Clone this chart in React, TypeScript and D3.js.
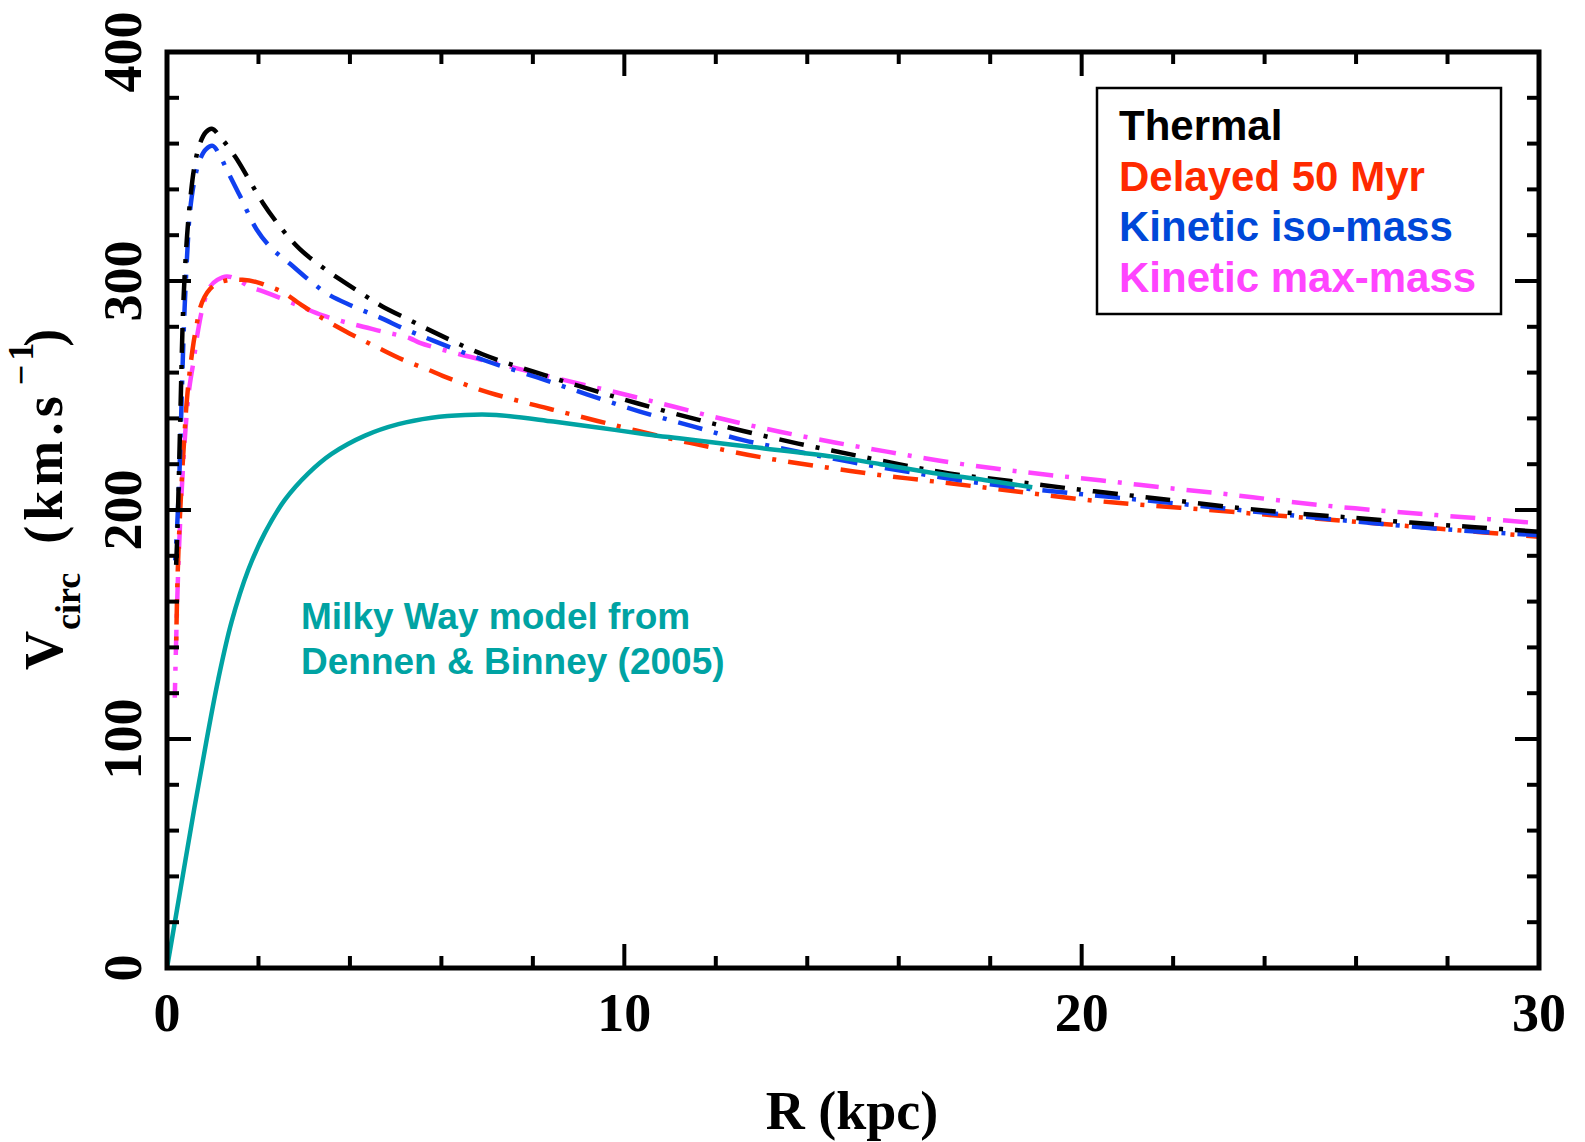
import React from 'react';
import * as d3 from 'd3';

type Pt = [number, number];

// ---- data (R in kpc, Vcirc in km/s) ----
const thermal: Pt[] = [[0.20,176],[0.23,192],[0.26,215],[0.30,248],[0.34,280],[0.38,300],[0.44,320],[0.50,334],[0.60,350],[0.72,360],[0.85,365],[0.98,366.5],[1.2,362],[1.5,354],[1.8,344],[2.1,334],[2.5,323],[2.9,314],[3.4,306],[3.8,300.5],[4.3,294],[4.7,289],[5.3,283],[5.8,278],[6.9,268],[8.0,260.5],[9.2,253],[10.3,246.5],[11.5,240],[12.6,234.5],[13.8,229],[14.9,224.5],[16.0,220],[17.1,216],[18.5,212.5],[19.7,209.5],[21.0,206.5],[22.1,204],[23.4,201],[24.7,198.5],[26.0,196.5],[27.2,194.5],[28.6,192.5],[30,190.5]];
const delayed: Pt[] = [[0.20,140],[0.22,162],[0.25,182],[0.32,212],[0.38,232],[0.43,247],[0.50,261],[0.58,273],[0.65,281],[0.72,288],[0.82,293],[0.94,296.5],[1.1,299],[1.38,300.5],[1.65,300.5],[1.96,299.5],[2.25,297.5],[2.54,295],[2.98,289],[3.5,282.5],[4.0,277],[4.6,271],[5.17,265.5],[5.68,261.5],[6.04,258.5],[6.7,253.5],[7.35,249.5],[8.0,246],[8.6,243],[9.69,237.5],[10.93,231.5],[11.87,227.5],[13.0,223],[14.28,219],[15.5,215.5],[16.76,212.5],[18.0,209.5],[19.1,206.8],[20.3,204],[21.5,202],[22.8,200],[24.0,198],[25.1,196.3],[26.4,194.2],[27.6,192.2],[28.8,190.2],[30,188.3]];
const isoMass: Pt[] = [[0.18,178],[0.22,192],[0.27,215],[0.32,248],[0.36,275],[0.40,295],[0.45,315],[0.50,330],[0.60,344],[0.72,353],[0.85,357.5],[1.0,359],[1.15,355],[1.31,348.5],[1.6,337],[1.96,322.5],[2.3,314],[2.69,307.5],[3.1,300.5],[3.5,294.5],[4.0,289.5],[4.66,284],[5.2,279],[5.82,274],[6.92,265.5],[8.08,258],[9.18,250.5],[10.34,243],[11.5,236.5],[12.6,230.5],[13.8,225.5],[14.94,221],[16.1,217],[17.34,213],[18.5,210],[19.7,207.5],[21.5,204],[23.45,200],[25.7,195.5],[28.0,191.5],[30,189]];
const maxMass: Pt[] = [[0.17,118],[0.19,135],[0.22,158],[0.26,182],[0.32,208],[0.40,234],[0.48,252],[0.58,265],[0.68,278.5],[0.80,290],[0.94,297.5],[1.1,300.5],[1.31,302],[1.55,300.5],[1.81,297.5],[2.1,295.5],[2.4,293.2],[2.91,289],[3.4,285],[4.0,281.5],[4.7,278],[5.31,275],[5.53,273],[6.4,268],[7.5,262.6],[8.67,256.8],[9.9,251],[11.07,245.2],[12.2,239.5],[13.4,234.2],[14.6,229.5],[15.74,225.5],[16.9,221.5],[18.07,218.2],[19.2,215.5],[20.4,213],[21.7,210],[23.0,207.3],[24.1,204.7],[25.2,202.2],[26.5,199.8],[27.75,197.8],[28.9,196],[30,194.2]];
const milkyWay: Pt[] = [[0,0],[0.3,35],[0.6,70],[0.87,100],[1.12,126],[1.41,151],[1.78,174],[2.14,190],[2.58,204.5],[3.09,216],[3.6,224.5],[4.33,232.5],[5.06,237.5],[5.79,240.3],[6.52,241.5],[7.2,241.5],[8.45,238.6],[9.5,235.8],[10.5,233],[11.2,231.3],[12.8,227.5],[14.57,223.3],[15.6,220],[16.75,216.2],[17.9,213],[18.92,209.9]];

const xMajorTicks = [0, 10, 20, 30];
const yMajorTicks = [0, 100, 200, 300, 400];
const legendLabels = ['Thermal', 'Delayed 50 Myr', 'Kinetic iso-mass', 'Kinetic max-mass'];
const legendColors = ['#000000', '#FF2A00', '#0048D8', '#FF44FF'];
const annotationLines = ['Milky Way model from', 'Dennen & Binney (2005)'];

const serif = '"Liberation Serif", "Times New Roman", serif';
const sans = '"Liberation Sans", Arial, sans-serif';

export default function App() {
  const x = d3.scaleLinear().domain([0, 30]).range([167, 1539]);
  const y = d3.scaleLinear().domain([0, 400]).range([968, 52]);
  const line = d3.line<Pt>().x(d => x(d[0])).y(d => y(d[1])).curve(d3.curveCatmullRom.alpha(0.5));

  const xMinor = d3.range(0, 30.001, 2).filter(v => !xMajorTicks.includes(v));
  const yMinor = d3.range(0, 400.001, 20).filter(v => !yMajorTicks.includes(v));
  const [x0, x1] = x.range();
  const [y0, y1] = y.range();
  const majL = 24, minL = 12;

  const curves = [
    { data: maxMass, color: '#FF44FF', dash: '25 12 4 12', off: 10 },
    { data: delayed, color: '#FF3300', dash: '25 12 4 12', off: 30 },
    { data: isoMass, color: '#1040F0', dash: '25 12 4 12', off: 20 },
    { data: thermal, color: '#000000', dash: '25 12 4 12', off: 0 },
  ];

  return (
    <svg width={1585} height={1142} style={{ position: 'absolute', left: 0, top: 0, background: '#fff' }}>
      <defs>
        <clipPath id="plotclip">
          <rect x={x0} y={y1} width={x1 - x0} height={y0 - y1} />
        </clipPath>
      </defs>
      <rect x={0} y={0} width={1585} height={1142} fill="#fff" />

      <g clipPath="url(#plotclip)">
        {curves.map((c, i) => (
          <path key={i} d={line(c.data) || ''} fill="none" stroke={c.color} strokeWidth={4.5}
            strokeDasharray={c.dash} strokeDashoffset={c.off} />
        ))}
        <path d={line(milkyWay) || ''} fill="none" stroke="#00A3A3" strokeWidth={4.5} />
      </g>

      {/* ticks */}
      <g stroke="#000" strokeWidth={4}>
        {xMajorTicks.concat(xMinor).map(v => {
          const L = xMajorTicks.includes(v) ? majL : minL;
          return (
            <g key={'xt' + v}>
              <line x1={x(v)} x2={x(v)} y1={y0} y2={y0 - L} />
              <line x1={x(v)} x2={x(v)} y1={y1} y2={y1 + L} />
            </g>
          );
        })}
        {yMajorTicks.concat(yMinor).map(v => {
          const L = yMajorTicks.includes(v) ? majL : minL;
          return (
            <g key={'yt' + v}>
              <line x1={x0} x2={x0 + L} y1={y(v)} y2={y(v)} />
              <line x1={x1} x2={x1 - L} y1={y(v)} y2={y(v)} />
            </g>
          );
        })}
      </g>
      <rect x={x0} y={y1} width={x1 - x0} height={y0 - y1} fill="none" stroke="#000" strokeWidth={5} />

      {/* tick labels */}
      <g fontFamily={serif} fontWeight="bold" fontSize={54} fill="#000">
        {xMajorTicks.map(v => (
          <text key={'xl' + v} x={x(v)} y={1031} textAnchor="middle">{v}</text>
        ))}
        {yMajorTicks.map(v => (
          <text key={'yl' + v} transform={`translate(141,${y(v)}) rotate(-90)`} textAnchor="middle">{v}</text>
        ))}
        <text x={852} y={1129} textAnchor="middle">R (kpc)</text>
        <text transform="translate(62,670) rotate(-90)" textAnchor="start">
          <tspan>V</tspan>
          <tspan fontSize={36} dx={1} dy={18}>circ</tspan>
          <tspan dx={29} dy={-18} letterSpacing={5}>(km.s</tspan>
          <tspan fontSize={36} dx={6} dy={-29}>−</tspan>
          <tspan fontSize={36} dx={4}>1</tspan>
          <tspan dx={-4} dy={29}>)</tspan>
        </text>
      </g>

      {/* legend */}
      <rect x={1097} y={88} width={404} height={226} fill="#fff" stroke="#000" strokeWidth={2.5} />
      <g fontFamily={sans} fontWeight="bold" fontSize={42}>
        {legendLabels.map((t, i) => (
          <text key={t} x={1119} y={140 + i * 50.6} fill={legendColors[i]}>{t}</text>
        ))}
      </g>

      {/* annotation */}
      <g fontFamily={sans} fontWeight="bold" fontSize={37} fill="#00A3A3">
        {annotationLines.map((t, i) => (
          <text key={t} x={301} y={629 + i * 45}>{t}</text>
        ))}
      </g>
    </svg>
  );
}
